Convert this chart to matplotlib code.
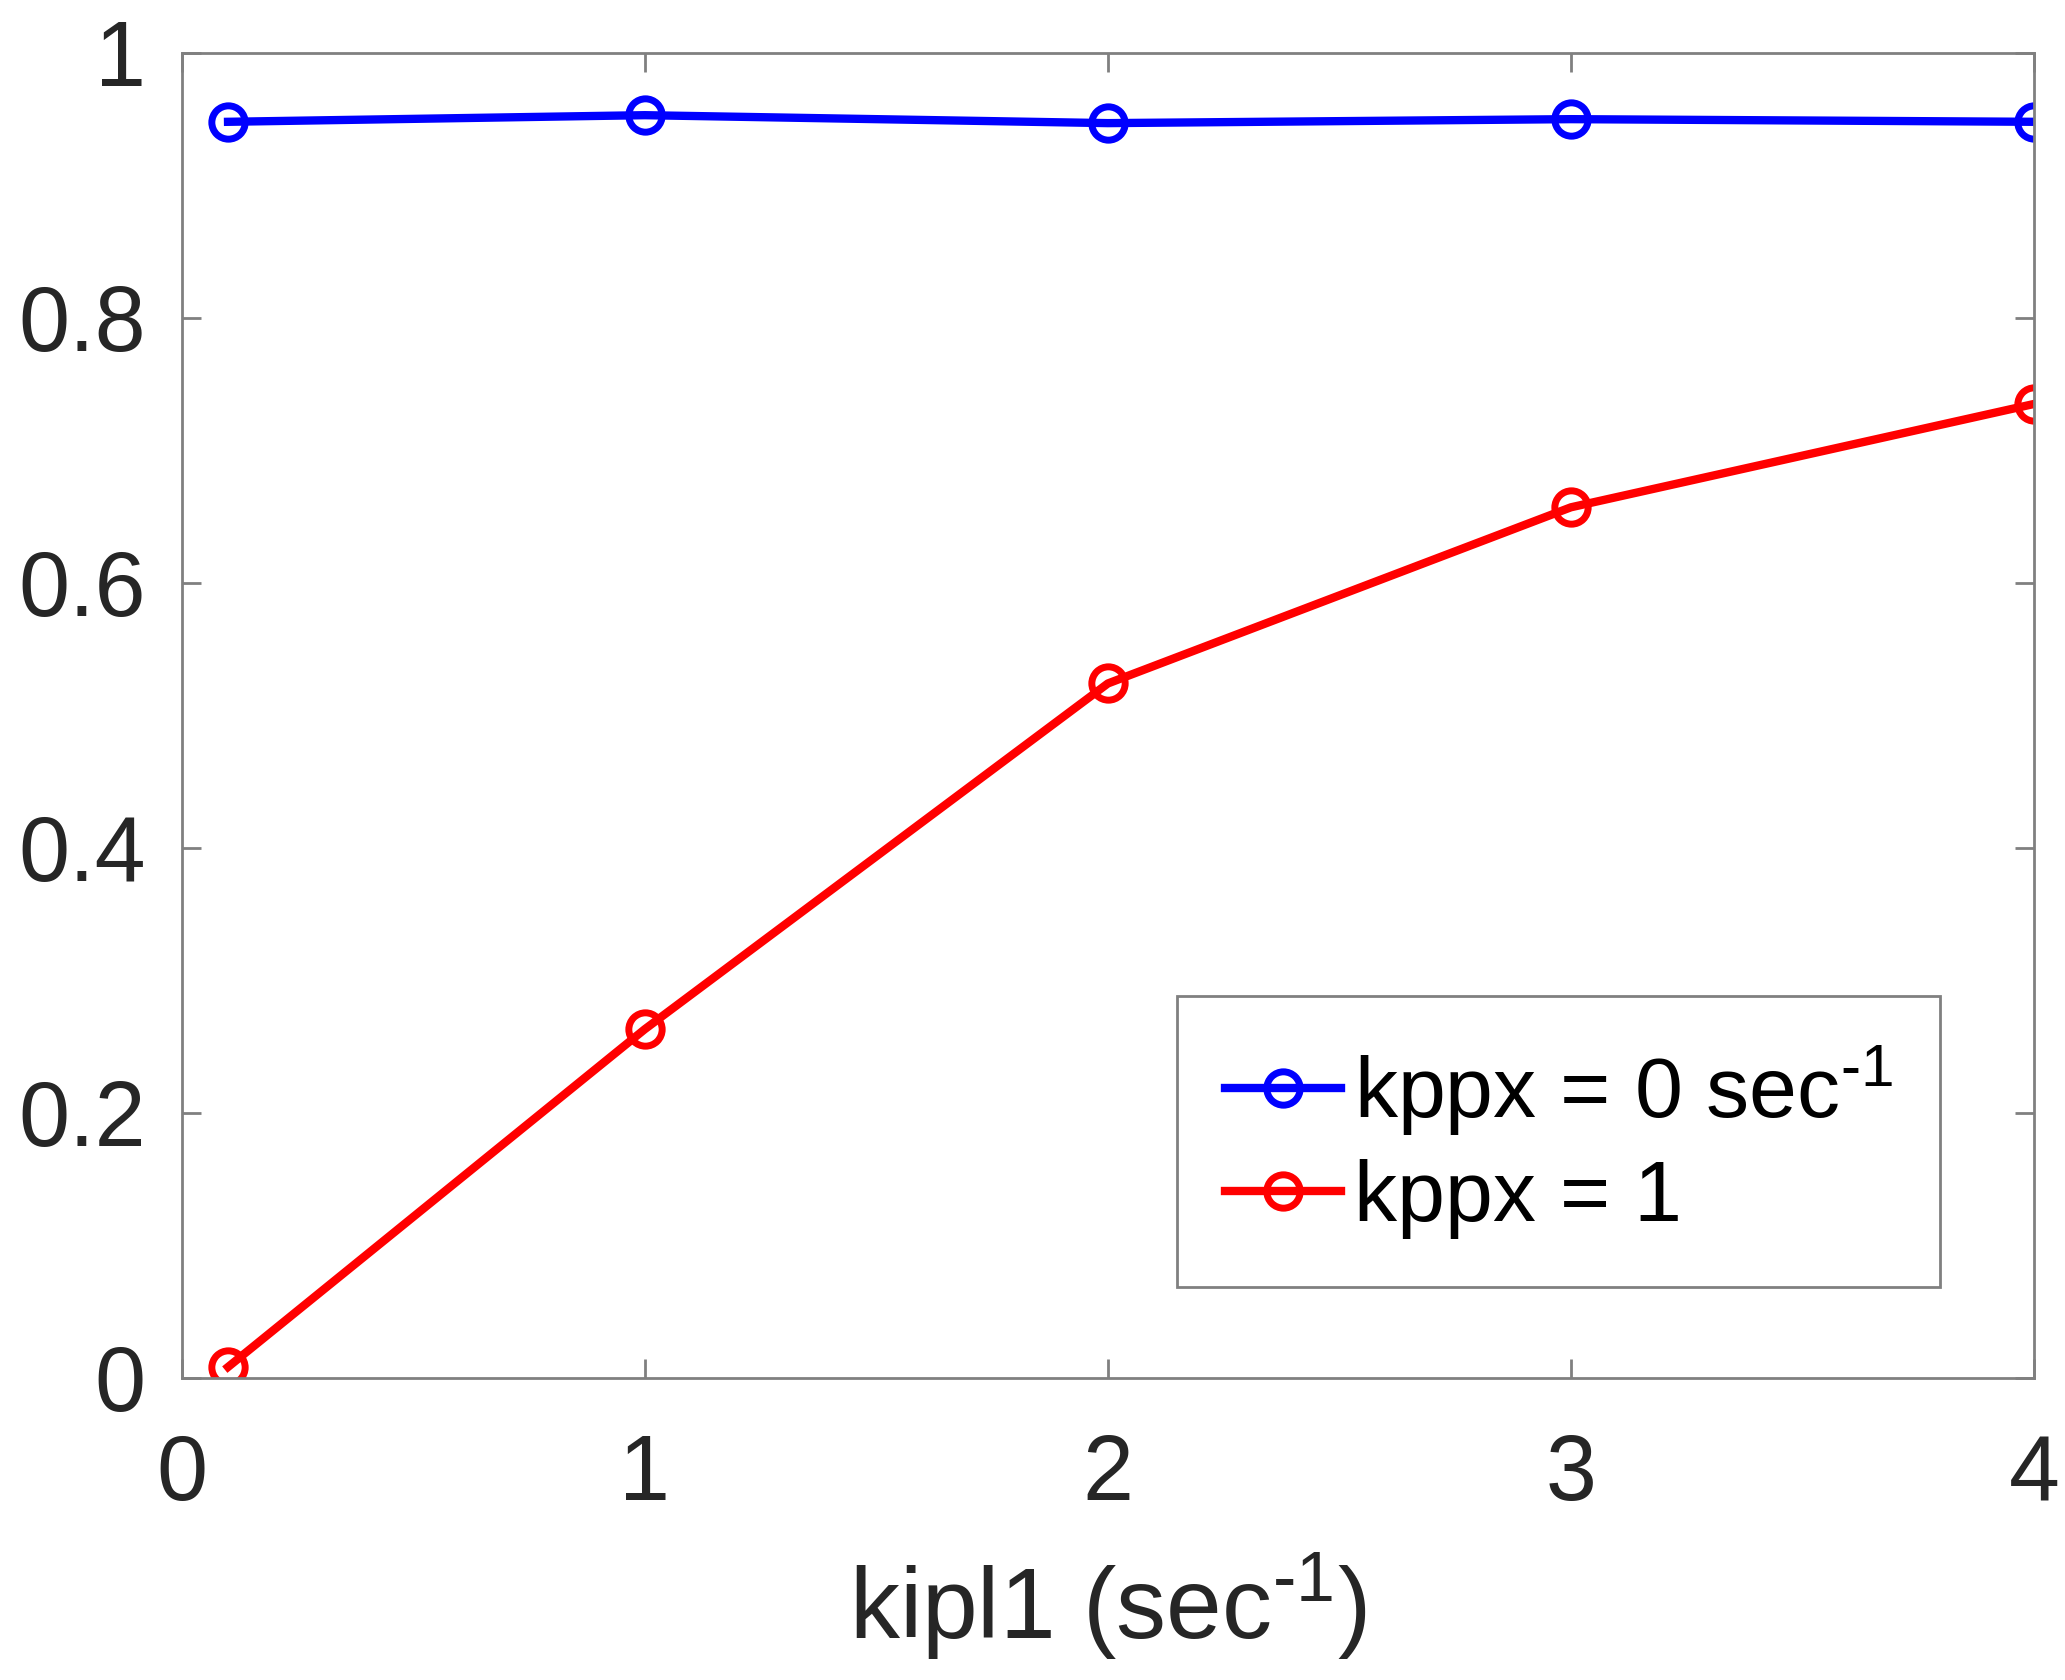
import matplotlib.pyplot as plt
import numpy as np

plt.rcParams['font.family'] = ['Liberation Sans', 'DejaVu Sans']
plt.rcParams['mathtext.fontset'] = 'custom'
plt.rcParams['mathtext.rm'] = 'Liberation Sans'
plt.rcParams['mathtext.it'] = 'Liberation Sans'

# data
kipl1 = [0.1, 1, 2, 3, 4]
kppx0 = [0.948, 0.953, 0.947, 0.950, 0.948]
kppx1 = [0.008, 0.263, 0.524, 0.657, 0.735]
xticks = [0, 1, 2, 3, 4]
yticks = [0, 0.2, 0.4, 0.6, 0.8, 1]
ytick_labels = ['0', '0.2', '0.4', '0.6', '0.8', '1']

fig = plt.figure(figsize=(20.65, 16.8), dpi=100)
ax = fig.add_axes([0.088, 0.18, 0.897, 0.7885])

ax.plot(kipl1, kppx0, '-o', color='#0000ff', lw=6, ms=24, mfc='none', mew=5,
        label='kppx = 0 sec$^{\\text{-}1}$')
ax.plot(kipl1, kppx1, '-o', color='#ff0000', lw=6, ms=24, mfc='none', mew=5,
        label='kppx = 1')

ax.set_xlim(0, 4)
ax.set_ylim(0, 1)
ax.set_xticks(xticks)
ax.set_yticks(yticks)
ax.set_yticklabels(ytick_labels)

gray = '#808080'
for s in ax.spines.values():
    s.set_color(gray)
    s.set_linewidth(2)
ax.tick_params(direction='in', length=14, width=2, color=gray, top=True, right=True,
               labelsize=66, labelcolor='#262626')
ax.tick_params(axis='y', pad=26)
ax.tick_params(axis='x', pad=40)
ax.set_xlabel('kipl1 (sec$^{\\text{-}1}$)', fontsize=72, color='#262626', labelpad=22)

leg = ax.legend(loc='lower right', bbox_to_anchor=(0.9495, 0.0686), fontsize=62,
                handlelength=1.35, handletextpad=0.15, borderpad=0.55, labelspacing=0.25,
                borderaxespad=0, fancybox=False, framealpha=1)
leg.get_frame().set_edgecolor(gray)
leg.get_frame().set_linewidth(2)

fig.savefig('out.png')
